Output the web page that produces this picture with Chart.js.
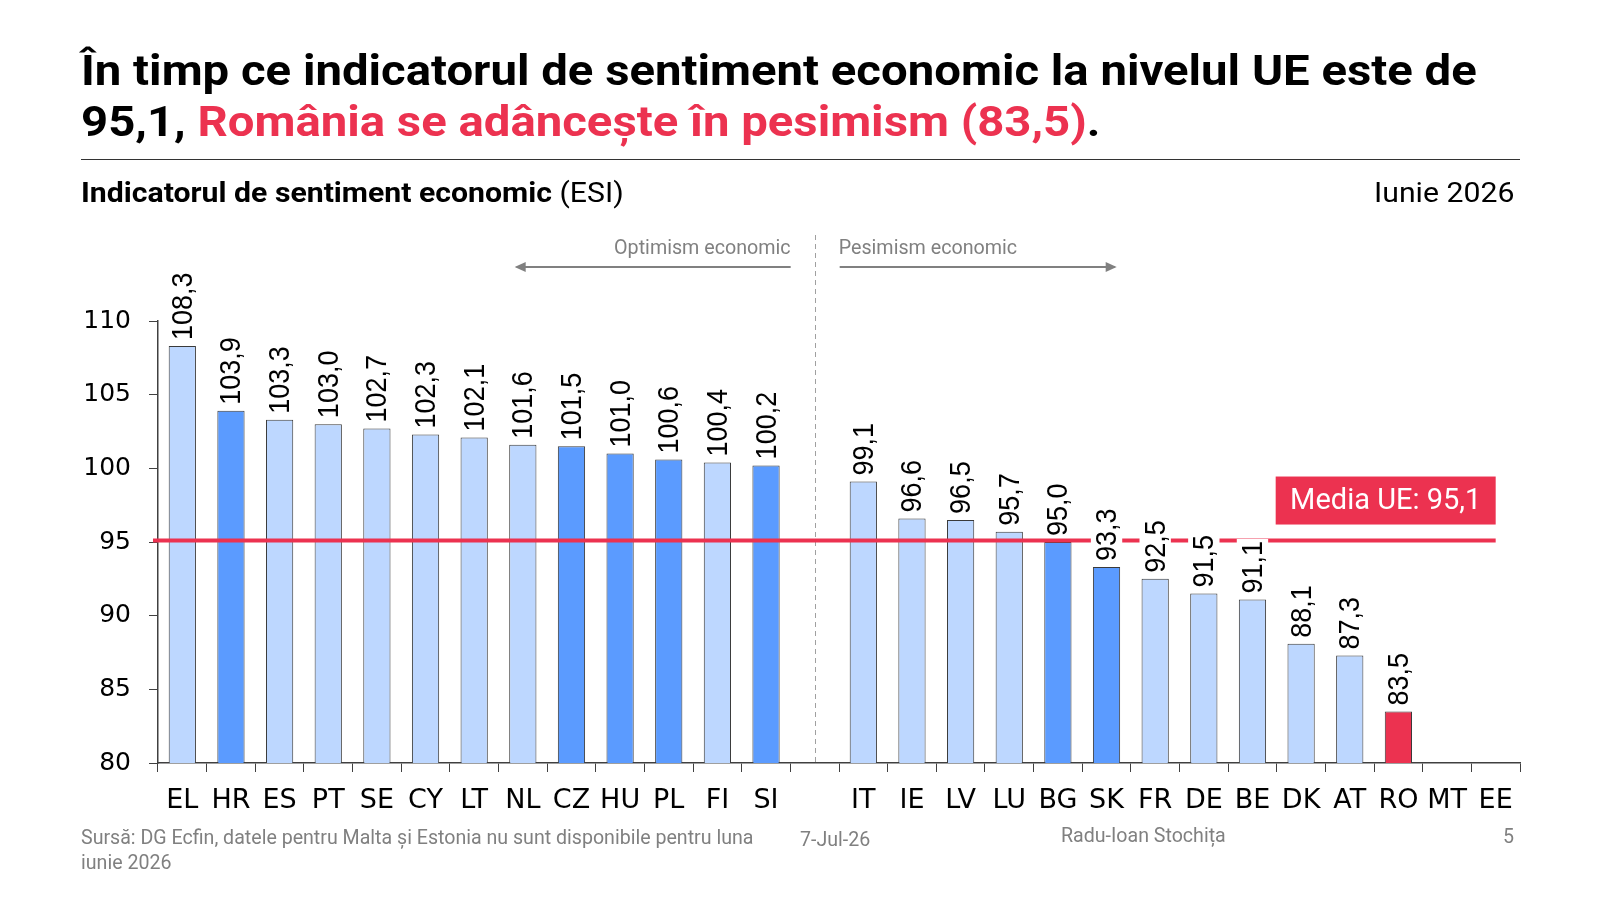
<!DOCTYPE html>
<html>
<head>
<meta charset="utf-8">
<script src="https://cdn.jsdelivr.net/npm/chart.js@4.4.1/dist/chart.umd.min.js"></script>
<style>
  html, body { margin: 0; padding: 0; background: #fff; }
  #wrap { position: relative; width: 1600px; height: 900px; overflow: hidden; font-family: Roboto, "Liberation Sans", sans-serif; }
  #c { position: absolute; left: 0; top: 0; }
  .abs { position: absolute; white-space: nowrap; }
  #title { left: 81px; top: 45px; font-size: 43px; font-weight: 700; line-height: 51px; color: #000; transform: scaleX(1.1); transform-origin: left top; }
  #title .red { color: #EC3250; }
  #rule { left: 81px; top: 159px; width: 1439px; height: 0; border-top: 1.5px solid #333; }
  #sub { left: 81px; top: 176px; font-size: 28.5px; line-height: 33px; color: #000; transform: scaleX(1.06); transform-origin: left top; }
  #date { right: 86px; top: 176px; font-size: 28.5px; line-height: 33px; color: #000; transform: scaleX(1.06); transform-origin: right top; }
  .foot { font-size: 19.6px; color: #808080; line-height: 24.5px; }
</style>
</head>
<body>
<div id="wrap">
  <canvas id="c" width="1600" height="900"></canvas>
  <div id="title" class="abs">În timp ce indicatorul de sentiment economic la nivelul UE este de<br>95,1, <span class="red">România se adâncește în pesimism (83,5)</span>.</div>
  <div id="rule" class="abs"></div>
  <div id="sub" class="abs"><b>Indicatorul de sentiment economic</b> (ESI)</div>
  <div id="date" class="abs">Iunie 2026</div>
  <div class="abs foot" style="left:81px; top:826px;">Sursă: DG Ecfin, datele pentru Malta și Estonia nu sunt disponibile pentru luna<br>iunie 2026</div>
  <div class="abs foot" style="left:800px; top:828px;">7-Jul-26</div>
  <div class="abs foot" style="left:1061px; top:824px;">Radu-Ioan Stochița</div>
  <div class="abs foot" style="right:86px; top:825px;">5</div>
</div>
<script>
// ---- data ----
const categories = ['EL','HR','ES','PT','SE','CY','LT','NL','CZ','HU','PL','FI','SI','',
                    'IT','IE','LV','LU','BG','SK','FR','DE','BE','DK','AT','RO','MT','EE'];
const esiValues = [108.3,103.9,103.3,103.0,102.7,102.3,102.1,101.6,101.5,101.0,100.6,100.4,100.2,null,
                   99.1,96.6,96.5,95.7,95.0,93.3,92.5,91.5,91.1,88.1,87.3,83.5,null,null];
const barGroups = ['L','D','L','L','L','L','L','L','D','D','D','L','D','L',
                   'L','L','L','L','D','D','L','L','L','L','L','R','L','L'];
const euAverage = 95.1;
const euLabel = 'Media UE: 95,1';
const yTickValues = [80, 85, 90, 95, 100, 105, 110];
const sectionLabels = ['Optimism economic', 'Pesimism economic'];

const groupColors = { L: '#BDD7FF', D: '#5B9BFF', R: '#EC3250' };
const RED = '#EC3250';

const fmt = v => v.toFixed(1).replace('.', ',');

const overlayPlugin = {
  id: 'overlay',
  beforeDatasetsDraw(chart) {
    const { ctx, scales: { x, y } } = chart;
    const sx = x.getPixelForValue(categories.indexOf(''));
    ctx.save();
    ctx.strokeStyle = '#A0A0A0';
    ctx.lineWidth = 1;
    ctx.setLineDash([5, 4]);
    ctx.beginPath();
    ctx.moveTo(Math.round(sx) + 0.5, 235);
    ctx.lineTo(Math.round(sx) + 0.5, y.getPixelForValue(80));
    ctx.stroke();
    ctx.setLineDash([]);
    const ay = 267;
    ctx.strokeStyle = '#808080';
    ctx.fillStyle = '#808080';
    ctx.lineWidth = 2;
    const drawArrow = (x0, x1) => {
      ctx.beginPath(); ctx.moveTo(x0, ay); ctx.lineTo(x1, ay); ctx.stroke();
      const d = x1 > x0 ? 1 : -1;
      ctx.beginPath();
      ctx.moveTo(x1 + d * 2, ay);
      ctx.lineTo(x1 - d * 9, ay - 5);
      ctx.lineTo(x1 - d * 9, ay + 5);
      ctx.closePath(); ctx.fill();
    };
    drawArrow(sx - 24, sx - 298);
    drawArrow(sx + 25, sx + 300);
    ctx.font = '19.7px Roboto, "Liberation Sans", sans-serif';
    ctx.fillStyle = '#808080';
    ctx.textBaseline = 'alphabetic';
    ctx.textAlign = 'right';
    ctx.fillText(sectionLabels[0], sx - 24, 254);
    ctx.textAlign = 'left';
    ctx.fillText(sectionLabels[1], sx + 24, 254);
    ctx.restore();
  },
  afterDatasetsDraw(chart) {
    const { ctx, chartArea, scales: { x, y } } = chart;
    const meta = chart.getDatasetMeta(0);
    ctx.save();
    const ly = y.getPixelForValue(euAverage);
    const x0 = chartArea.left - 5;
    const x1 = x.getPixelForValue(categories.length - 1);
    ctx.strokeStyle = RED;
    ctx.lineWidth = 4;
    ctx.beginPath(); ctx.moveTo(x0, ly); ctx.lineTo(x1, ly); ctx.stroke();
    ctx.font = '27px "Liberation Sans", Arial, sans-serif';
    meta.data.forEach((el, i) => {
      const v = esiValues[i];
      if (v === null || v === undefined) return;
      const t = fmt(v);
      ctx.save();
      ctx.translate(el.x, el.y - 6);
      ctx.rotate(-Math.PI / 2);
      ctx.scale(1, 1.12);
      const w = ctx.measureText(t).width;
      ctx.fillStyle = '#fff';
      ctx.fillRect(-1, -14, w + 3, 28);
      ctx.fillStyle = '#000';
      ctx.textAlign = 'left';
      ctx.textBaseline = 'middle';
      ctx.fillText(t, 0, 1);
      ctx.restore();
    });
    ctx.font = '29px Roboto, "Liberation Sans", sans-serif';
    const bw = 220, bh = 48;
    const bx = x1 - bw, by = ly - 64;
    ctx.fillStyle = RED;
    ctx.fillRect(bx, by, bw, bh);
    ctx.fillStyle = '#fff';
    ctx.textAlign = 'center';
    ctx.textBaseline = 'middle';
    ctx.fillText(euLabel, bx + bw / 2, by + bh / 2 + 1);
    ctx.restore();
  }
};

new Chart(document.getElementById('c'), {
  type: 'bar',
  data: {
    labels: categories,
    datasets: [{
      data: esiValues,
      backgroundColor: barGroups.map(g => groupColors[g]),
      borderColor: '#3a3a3a',
      borderWidth: 1,
      categoryPercentage: 1,
      barPercentage: 0.56
    }]
  },
  options: {
    responsive: false,
    animation: false,
    devicePixelRatio: 1,
    layout: { padding: { top: 321, right: 80, left: 0, bottom: 0 } },
    plugins: { legend: { display: false }, tooltip: { enabled: false } },
    scales: {
      x: {
        grid: { display: true, drawOnChartArea: false, offset: true, tickLength: 9, color: '#404040' },
        border: { display: true, color: '#404040', width: 1.5 },
        ticks: { color: '#000', font: { size: 27, family: '"DejaVu Sans", sans-serif' }, padding: 13, maxRotation: 0, autoSkip: false },
        afterFit: s => { s.height = 137; }
      },
      y: {
        min: 80, max: 110,
        afterBuildTicks: s => { s.ticks = yTickValues.map(v => ({ value: v })); },
        grid: { display: true, drawOnChartArea: false, tickLength: 9, color: '#404040' },
        border: { display: true, color: '#404040', width: 1.5 },
        ticks: { color: '#000', font: { size: 25, family: '"DejaVu Sans", sans-serif' }, padding: 18 },
        afterFit: s => { s.width = 158; }
      }
    }
  },
  plugins: [overlayPlugin]
});
</script>
</body>
</html>
